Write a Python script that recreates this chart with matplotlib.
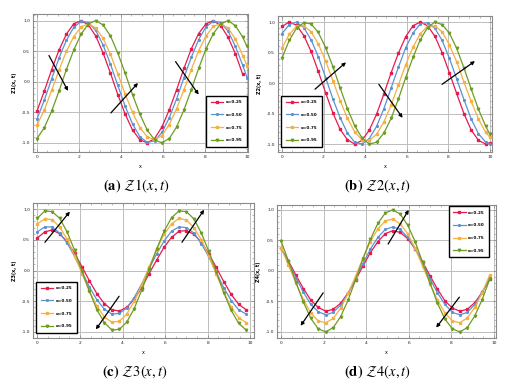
import matplotlib
matplotlib.use("Agg")
import matplotlib.pyplot as plt
from matplotlib.ticker import MultipleLocator, FormatStrFormatter

plt.rcParams['mathtext.fontset'] = 'stix'
plt.rcParams['font.family'] = ['DejaVu Sans']

# ---------------- data ----------------
x_pts = [0.0, 0.35, 0.7, 1.05, 1.4, 1.75, 2.1, 2.45, 2.8, 3.15, 3.5, 3.85, 4.2, 4.55,
         4.9, 5.25, 5.6, 5.95, 6.3, 6.65, 7.0, 7.35, 7.7, 8.05, 8.4, 8.75, 9.1, 9.45, 9.8]
x_end = [10.0]

labels = ["\u03b1=0.25", "\u03b1=0.50", "\u03b1=0.75", "\u03b1=0.95"]
colors = ["#E8194F", "#5B92D2", "#F5B041", "#6E9C22"]
markers = ["s", "*", "s", "v"]

# Z1(x,t)
z1_a25 = [-0.48, -0.15, 0.20, 0.52, 0.78, 0.95, 1.00, 0.93, 0.75, 0.47, 0.14, -0.21, -0.53, -0.79,
          -0.95, -1.00, -0.93, -0.74, -0.46, -0.13, 0.22, 0.54, 0.79, 0.95, 1.00, 0.92, 0.73, 0.46, 0.12]
z1_a50 = [-0.61, -0.30, 0.05, 0.39, 0.68, 0.89, 0.99, 0.97, 0.84, 0.60, 0.29, -0.06, -0.40, -0.69,
          -0.90, -0.99, -0.97, -0.83, -0.59, -0.28, 0.07, 0.40, 0.69, 0.90, 0.99, 0.97, 0.83, 0.58, 0.27, 0.07]
z1_a75 = [-0.71, -0.46, -0.14, 0.19, 0.50, 0.74, 0.90, 0.95, 0.88, 0.71, 0.45, 0.13, -0.20, -0.50,
          -0.75, -0.90, -0.95, -0.88, -0.70, -0.44, -0.13, 0.20, 0.51, 0.75, 0.91, 0.95, 0.88, 0.70, 0.43, 0.26]
z1_a95 = [-0.93, -0.75, -0.48, -0.15, 0.20, 0.52, 0.78, 0.95, 1.00, 0.93, 0.75, 0.47, 0.14, -0.21,
          -0.53, -0.79, -0.95, -1.00, -0.93, -0.74, -0.46, -0.13, 0.22, 0.54, 0.79, 0.95, 1.00, 0.92, 0.73, 0.58]

# Z2(x,t)
z2_a25 = [0.93, 1.00, 0.95, 0.78, 0.52, 0.19, -0.16, -0.49, -0.76, -0.93, -1.00, -0.94, -0.77, -0.51,
          -0.18, 0.17, 0.49, 0.76, 0.94, 1.00, 0.94, 0.77, 0.50, 0.17, -0.17, -0.50, -0.77, -0.94, -1.00, -0.98]
z2_a50 = [0.81, 0.96, 1.00, 0.91, 0.71, 0.43, 0.09, -0.26, -0.57, -0.82, -0.97, -1.00, -0.91, -0.71,
          -0.42, -0.08, 0.26, 0.58, 0.82, 0.97, 0.99, 0.90, 0.70, 0.41, 0.07, -0.27, -0.59, -0.83, -0.97, -1.00]
z2_a75 = [0.57, 0.80, 0.93, 0.94, 0.84, 0.64, 0.36, 0.04, -0.29, -0.58, -0.80, -0.93, -0.94, -0.84,
          -0.64, -0.36, -0.03, 0.30, 0.59, 0.81, 0.93, 0.94, 0.84, 0.63, 0.35, 0.02, -0.30, -0.59, -0.81, -0.89]
z2_a95 = [0.41, 0.70, 0.90, 0.99, 0.97, 0.83, 0.58, 0.27, -0.08, -0.42, -0.70, -0.90, -1.00, -0.97,
          -0.82, -0.58, -0.26, 0.09, 0.42, 0.71, 0.91, 1.00, 0.96, 0.82, 0.57, 0.25, -0.10, -0.43, -0.71, -0.84]

# Z3(x,t)
z3_a25 = [0.53, 0.63, 0.66, 0.60, 0.47, 0.28, 0.06, -0.17, -0.38, -0.54, -0.64, -0.66, -0.60, -0.47,
          -0.28, -0.05, 0.17, 0.38, 0.54, 0.64, 0.65, 0.59, 0.46, 0.27, 0.05, -0.18, -0.39, -0.55, -0.64]
z3_a50 = [0.63, 0.71, 0.71, 0.61, 0.45, 0.23, -0.02, -0.27, -0.48, -0.63, -0.71, -0.70, -0.61, -0.44,
          -0.22, 0.03, 0.27, 0.48, 0.64, 0.71, 0.70, 0.61, 0.44, 0.22, -0.03, -0.28, -0.49, -0.64, -0.71]
z3_a75 = [0.76, 0.84, 0.83, 0.71, 0.51, 0.24, -0.05, -0.34, -0.58, -0.76, -0.84, -0.83, -0.71, -0.50,
          -0.24, 0.06, 0.34, 0.59, 0.76, 0.85, 0.82, 0.70, 0.50, 0.23, -0.06, -0.35, -0.60, -0.77, -0.85]
z3_a95 = [0.85, 0.97, 0.96, 0.85, 0.63, 0.33, -0.01, -0.34, -0.64, -0.85, -0.97, -0.96, -0.84, -0.62,
          -0.32, 0.02, 0.35, 0.64, 0.86, 0.97, 0.96, 0.84, 0.61, 0.31, -0.02, -0.36, -0.65, -0.86, -0.97]

# Z4(x,t)
z4_a25 = [0.37, 0.16, -0.07, -0.29, -0.48, -0.60, -0.66, -0.63, -0.53, -0.36, -0.15, 0.08, 0.30, 0.48,
          0.61, 0.66, 0.63, 0.53, 0.36, 0.15, -0.08, -0.30, -0.49, -0.61, -0.66, -0.63, -0.52, -0.35, -0.14]
z4_a50 = [0.37, 0.14, -0.11, -0.35, -0.55, -0.67, -0.72, -0.68, -0.56, -0.37, -0.13, 0.12, 0.36, 0.55,
          0.68, 0.72, 0.68, 0.55, 0.36, 0.13, -0.13, -0.36, -0.55, -0.68, -0.72, -0.68, -0.55, -0.35, -0.12]
z4_a75 = [0.38, 0.09, -0.20, -0.47, -0.69, -0.82, -0.85, -0.78, -0.61, -0.37, -0.09, 0.21, 0.48, 0.69,
          0.82, 0.85, 0.77, 0.61, 0.37, 0.08, -0.21, -0.48, -0.69, -0.82, -0.85, -0.77, -0.60, -0.36, -0.07]
z4_a95 = [0.49, 0.16, -0.19, -0.51, -0.78, -0.95, -1.00, -0.93, -0.75, -0.48, -0.15, 0.20, 0.52, 0.78,
          0.95, 1.00, 0.93, 0.75, 0.48, 0.14, -0.20, -0.53, -0.79, -0.95, -1.00, -0.93, -0.74, -0.47, -0.14]

panels = [
    dict(series=[z1_a25, z1_a50, z1_a75, z1_a95], ylabel="Z1(x, t)",
         caption=r"$\mathbf{(a)}\ \mathcal{Z}1(x,t)$",
         arrows=[((0.57, 0.43), (1.48, -0.15)), ((3.52, -0.51), (4.81, -0.02)), ((6.6, 0.33), (7.7, -0.21))]),
    dict(series=[z2_a25, z2_a50, z2_a75, z2_a95], ylabel="Z2(x, t)",
         caption=r"$\mathbf{(b)}\ \mathcal{Z}2(x,t)$",
         arrows=[((1.59, -0.10), (3.08, 0.34)), ((4.66, -0.02), (5.8, -0.57)), ((7.7, -0.02), (9.28, 0.36))]),
    dict(series=[z3_a25, z3_a50, z3_a75, z3_a95], ylabel="Z3(x, t)",
         caption=r"$\mathbf{(c)}\ \mathcal{Z}3(x,t)$",
         arrows=[((0.36, 0.46), (1.53, 0.96)), ((3.84, -0.42), (2.75, -0.96)), ((6.79, 0.46), (7.83, 0.99))]),
    dict(series=[z4_a25, z4_a50, z4_a75, z4_a95], ylabel="Z4(x, t)",
         caption=r"$\mathbf{(d)}\ \mathcal{Z}4(x,t)$",
         arrows=[((1.98, -0.36), (0.92, -0.90)), ((5.03, 0.44), (6.0, 1.0)), ((8.38, -0.43), (7.29, -0.93))]),
]

# ---------------- layout ----------------
W, H = 521, 389
rects = [(33, 14, 248, 152), (278, 16, 492, 152), (33, 203, 254, 338), (277, 205, 496, 338)]
xlims = [(-0.19, 10.05), (-0.19, 10.1), (-0.2, 10.17), (-0.19, 10.1)]
ylims = [(-1.15, 1.11), (-1.13, 1.10), (-1.10, 1.10), (-1.10, 1.08)]
leg_loc = ["lower right", "lower left", "lower left", "upper right"]
leg_anchor = [(0.995, 0.036), (0.014, 0.037), (0.014, 0.037), (0.97, 0.992)]
cap_pos = [(136, 186), (378, 186), (135, 372), (378, 372)]

fig = plt.figure(figsize=(W / 100, H / 100), dpi=100)

for i, p in enumerate(panels):
    l, t, r, b = rects[i]
    ax = fig.add_axes([l / W, 1 - b / H, (r - l) / W, (b - t) / H])
    for j, ys in enumerate(p["series"]):
        xs = (x_pts + x_end)[:len(ys)]
        ax.plot(xs, ys, color=colors[j], lw=0.9, marker=markers[j], ms=1.8,
                mec=colors[j], mfc=colors[j], label=labels[j], zorder=3)
    ax.set_xlim(*xlims[i])
    ax.set_ylim(*ylims[i])
    ax.xaxis.set_major_locator(MultipleLocator(2))
    ax.xaxis.set_minor_locator(MultipleLocator(0.5))
    ax.yaxis.set_major_locator(MultipleLocator(0.5))
    ax.yaxis.set_minor_locator(MultipleLocator(0.1))
    ax.yaxis.set_major_formatter(FormatStrFormatter("%.1f"))
    ax.grid(True, which="major", color="#bdbdbd", lw=0.7, zorder=0)
    ax.tick_params(which="both", direction="in", top=True, right=True, colors="#888888",
                   labelcolor="#222222", labelsize=3.2, pad=2)
    ax.tick_params(which="major", length=2.5, width=0.5)
    ax.tick_params(which="minor", length=1.3, width=0.4)
    for s in ax.spines.values():
        s.set_color("#8a8a8a")
        s.set_linewidth(0.8)
    ax.set_xlabel("x", fontsize=3.5, labelpad=4)
    ax.set_ylabel(p["ylabel"], fontsize=3.5, fontweight="bold", labelpad=3)
    for (sx, sy), (ex, ey) in p["arrows"]:
        ax.annotate("", xy=(ex, ey), xytext=(sx, sy),
                    arrowprops=dict(arrowstyle="-|>", color="black", lw=0.9,
                                    mutation_scale=5, shrinkA=0, shrinkB=0), zorder=5)
    leg = ax.legend(loc=leg_loc[i], bbox_to_anchor=leg_anchor[i], fontsize=3.0,
                    frameon=True, fancybox=False, edgecolor="black", framealpha=1,
                    handlelength=3.0, labelspacing=2.1, borderpad=1.1, handletextpad=0.6,
                    borderaxespad=0)
    leg.get_frame().set_linewidth(1.0)
    for txt in leg.get_texts():
        txt.set_fontweight("bold")
    cx, cy = cap_pos[i]
    fig.text(cx / W, 1 - cy / H, p["caption"], ha="center", va="center", fontsize=10.5)

fig.savefig("out.png", dpi=100)
